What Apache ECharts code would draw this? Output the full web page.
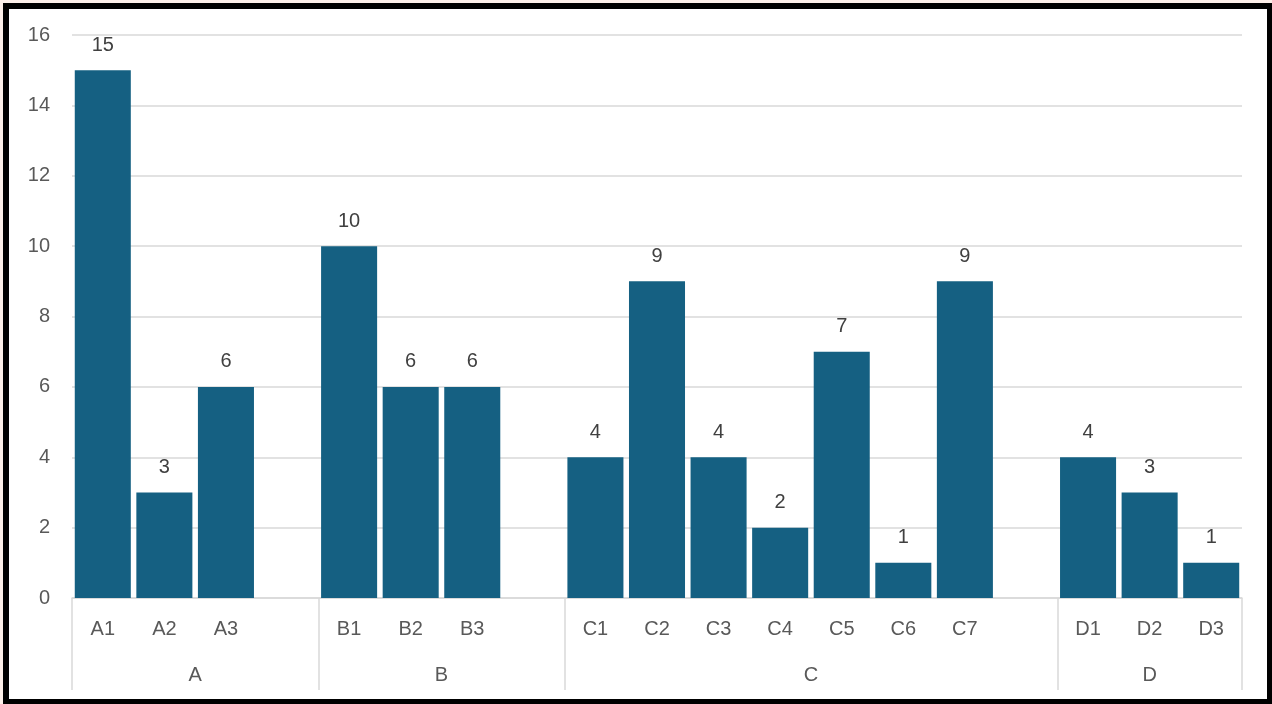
<!DOCTYPE html>
<html>
<head>
<meta charset="utf-8">
<script src="https://cdn.jsdelivr.net/npm/echarts@6/dist/echarts.min.js"></script>
<style>
  html, body { margin: 0; padding: 0; background: #fcefe9; }
  #frame {
    position: absolute; left: 3px; top: 3px; width: 1269px; height: 701px;
    box-sizing: border-box; background: #ffffff;
    border-style: solid; border-color: #000000;
    border-width: 6px 5px 5px 6px;
  }
  #chart { position: absolute; left: 0; top: 0; width: 1272px; height: 704px; }
</style>
</head>
<body>
<div id="frame"></div>
<div id="chart"></div>
<script>
// Groups and their member categories / values
const groupNames = ['A', 'B', 'C', 'D'];
const groupItems = [
  ['A1', 'A2', 'A3'],
  ['B1', 'B2', 'B3'],
  ['C1', 'C2', 'C3', 'C4', 'C5', 'C6', 'C7'],
  ['D1', 'D2', 'D3']
];
const groupValues = [
  [15, 3, 6],
  [10, 6, 6],
  [4, 9, 4, 2, 7, 1, 9],
  [4, 3, 1]
];
const yTicks = { min: 0, max: 16, step: 2 };

// Flatten into one category axis, with an empty slot after every group but the last
const categories = [];
const values = [];
const groupBounds = [0];
groupItems.forEach((items, g) => {
  items.forEach((name, i) => {
    categories.push(name);
    values.push(groupValues[g][i]);
  });
  if (g < groupItems.length - 1) {
    categories.push('');
    values.push('-');
  }
  groupBounds.push(categories.length);
});
const groupCenters = groupNames.map((_, g) => (groupBounds[g] + groupBounds[g + 1]) / 2);

const textColor = '#595959';
const lineColor = '#d9d9d9';
const fontFamily = '"Liberation Sans", Arial, sans-serif';
const fontSize = 20;

const chart = echarts.init(document.getElementById('chart'), null, { renderer: 'canvas' });
chart.setOption({
  backgroundColor: 'transparent',
  animation: false,
  textStyle: { fontFamily: fontFamily },
  grid: { left: 72, right: 30, top: 35, bottom: 106, containLabel: false },
  xAxis: [
    {
      type: 'category',
      data: categories,
      boundaryGap: true,
      axisLine: { show: true, lineStyle: { color: lineColor, width: 1.5 } },
      axisTick: { show: false },
      axisLabel: { color: textColor, fontSize: fontSize, fontFamily: fontFamily, margin: 21, interval: 0 }
    },
    {
      type: 'value',
      position: 'bottom',
      offset: 92,
      min: 0,
      max: categories.length,
      axisLine: { show: false },
      splitLine: { show: false },
      axisTick: {
        show: true,
        inside: true,
        length: 92,
        customValues: groupBounds,
        lineStyle: { color: lineColor, width: 1.5 }
      },
      axisLabel: {
        show: true,
        inside: true,
        margin: 5,
        customValues: groupCenters,
        color: textColor,
        fontSize: fontSize,
        fontFamily: fontFamily,
        formatter: function (v) {
          const idx = groupCenters.indexOf(v);
          return idx >= 0 ? groupNames[idx] : '';
        }
      }
    }
  ],
  yAxis: {
    type: 'value',
    min: yTicks.min,
    max: yTicks.max,
    interval: yTicks.step,
    axisLine: { show: false },
    axisTick: { show: false },
    splitLine: { lineStyle: { color: lineColor, width: 1.5 } },
    axisLabel: { color: textColor, fontSize: fontSize, fontFamily: fontFamily, margin: 22 }
  },
  series: [
    {
      type: 'bar',
      xAxisIndex: 0,
      data: values,
      barCategoryGap: '9%',
      itemStyle: { color: '#156082' },
      label: {
        show: true,
        position: 'top',
        distance: 15,
        color: '#404040',
        fontSize: fontSize,
        fontFamily: fontFamily
      }
    }
  ]
});
</script>
</body>
</html>
